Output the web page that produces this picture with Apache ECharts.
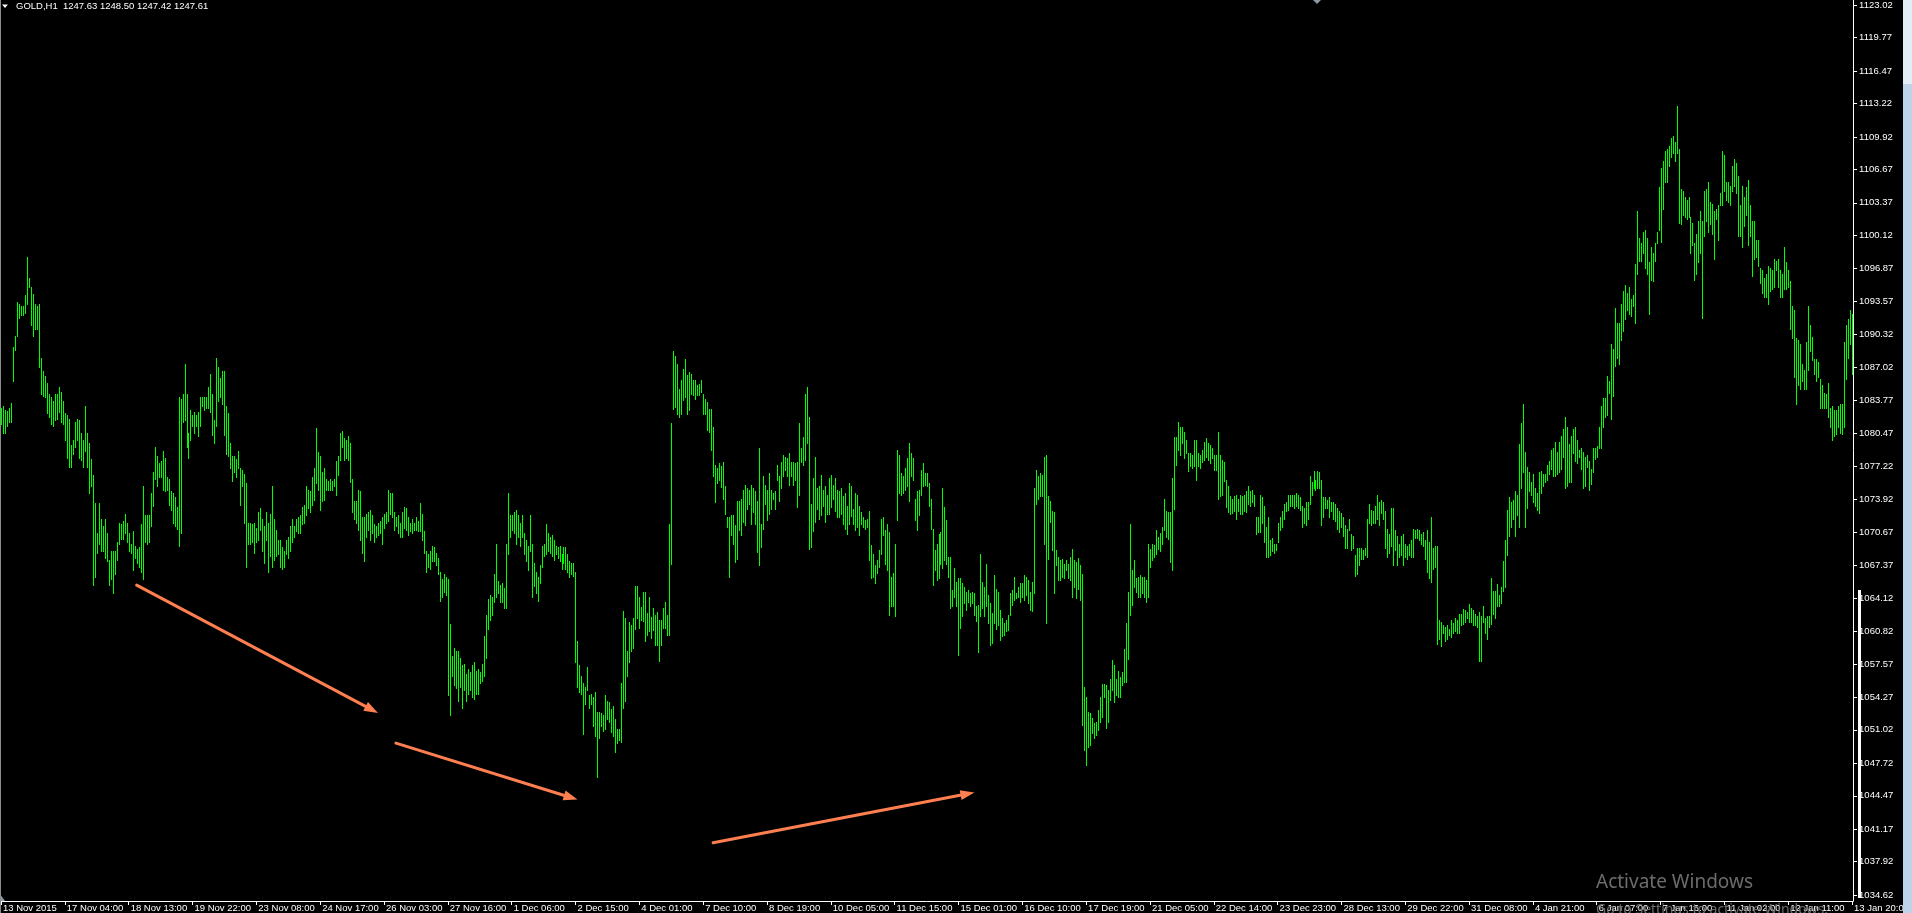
<!DOCTYPE html>
<html><head><meta charset="utf-8">
<script src="https://cdn.jsdelivr.net/npm/echarts@6/dist/echarts.min.js"></script>
<style>html,body{margin:0;padding:0;background:#000;overflow:hidden}#c{width:1912px;height:913px}</style>
</head><body><div id="c"></div><script>
const symbolName = 'GOLD,H1';
const lastOHLC = [1247.63, 1248.50, 1247.42, 1247.61];
const timeLabels = ['13 Nov 2015','17 Nov 04:00','18 Nov 13:00','19 Nov 22:00','23 Nov 08:00','24 Nov 17:00','26 Nov 03:00','27 Nov 16:00','1 Dec 06:00','2 Dec 15:00','4 Dec 01:00','7 Dec 10:00','8 Dec 19:00','10 Dec 05:00','11 Dec 15:00','15 Dec 01:00','16 Dec 10:00','17 Dec 19:00','21 Dec 05:00','22 Dec 14:00','23 Dec 23:00','28 Dec 13:00','29 Dec 22:00','31 Dec 08:00','4 Jan 21:00','6 Jan 07:00','7 Jan 16:00','11 Jan 02:00','12 Jan 11:00','13 Jan 20:00'];
const priceTicks = [1034.62,1037.92,1041.17,1044.47,1047.72,1051.02,1054.27,1057.57,1060.82,1064.12,1067.37,1070.67,1073.92,1077.22,1080.47,1083.77,1087.02,1090.32,1093.57,1096.87,1100.12,1103.37,1106.67,1109.92,1113.22,1116.47,1119.77,1123.02];
// hourly bars as [high, low]
const barsNov = [[1083.0,1081.4],[1083.2,1080.5],[1082.8,1080.5],[1082.7,1081.2],[1083.0,1081.6],[1083.5,1081.6],[1089.0,1085.7],[1090.1,1088.8],[1093.5,1090.1],[1093.3,1091.9],
[1093.1,1092.2],[1093.1,1092.2],[1094.2,1092.4],[1098.0,1093.3],[1095.9,1095.0],[1095.0,1091.2],[1094.3,1090.1],[1093.3,1090.8],[1093.1,1090.8],[1093.3,1087.1],
[1088.0,1084.4],[1086.7,1084.2],[1086.2,1084.1],[1085.5,1082.5],[1084.4,1082.1],[1084.1,1081.4],[1083.7,1081.2],[1084.4,1081.8],[1084.4,1081.9],[1085.1,1082.6],
[1084.6,1081.6],[1083.7,1081.4],[1082.5,1079.8],[1082.3,1078.0],[1081.9,1077.1],[1079.3,1077.1],[1079.8,1078.4],[1081.6,1079.1],[1081.9,1079.8],[1081.8,1078.0],
[1080.5,1077.8],[1079.8,1077.1],[1083.2,1078.7],[1080.5,1077.1],[1079.5,1074.5],[1077.9,1075.2],
[1076.3,1065.4],[1073.6,1066.2],[1070.6,1068.6],[1073.6,1069.5],[1072.0,1068.8],[1071.3,1068.8],[1072.0,1068.1],[1070.6,1067.8],[1067.9,1065.4],[1068.8,1066.0],
[1068.8,1064.6],[1068.8,1066.5],[1069.7,1067.9],[1071.6,1069.5],[1071.5,1070.0],[1071.8,1070.0],[1072.5,1070.6],[1071.6,1069.7],[1070.6,1068.8],[1069.5,1068.6],
[1070.8,1066.9],[1069.3,1068.1],[1069.0,1067.6],[1069.2,1067.2],[1071.5,1066.7],[1075.2,1066.0],[1072.4,1069.7],[1072.4,1069.5],[1072.4,1069.7],[1074.5,1071.3],
[1076.6,1073.3],[1079.1,1075.9],[1078.2,1075.2],[1077.5,1076.1],[1077.7,1076.1],[1078.7,1074.8],[1078.0,1074.7],[1076.1,1074.8],[1075.9,1073.4],[1074.7,1072.9],
[1074.5,1071.6],[1074.1,1071.3],[1073.2,1071.0],
[1084.1,1069.3],[1083.9,1070.6],[1084.4,1081.6],[1087.4,1081.8],[1084.4,1079.1],[1080.5,1078.0],[1082.8,1079.8],[1082.3,1081.2],[1082.6,1080.5],[1082.3,1081.2],
[1082.6,1080.2],[1084.1,1081.2],[1084.1,1083.2],[1084.1,1082.8],[1084.1,1083.0],[1085.1,1083.0],[1086.4,1082.6],[1084.4,1080.3],[1081.8,1079.5],[1088.0,1081.2],
[1087.1,1083.7],[1086.0,1084.1],[1086.7,1083.4],[1086.7,1080.3],[1083.2,1078.4],[1082.5,1078.2],[1079.5,1077.0],[1078.2,1075.7],[1078.2,1076.6],[1077.9,1076.1],
[1078.7,1077.0],[1077.0,1073.4],[1076.8,1075.2],[1076.4,1071.6],[1075.5,1067.2],[1071.6,1069.5],[1071.6,1069.5],[1071.5,1069.7],[1071.6,1068.6],[1071.1,1069.7],
[1072.7,1069.9],[1073.1,1070.9],[1072.0,1068.8],[1071.3,1067.6],[1072.7,1069.9],[1071.6,1066.7],[1072.5,1068.3],[1075.2,1067.2],[1072.0,1067.9],[1070.9,1068.3],
[1069.9,1068.5],[1069.9,1067.2],[1069.2,1067.0],[1068.8,1067.2],[1069.9,1068.5],[1070.2,1068.1],[1071.3,1068.8],[1072.0,1069.7],[1071.3,1070.2],[1072.0,1070.8],
[1072.2,1070.6],[1072.4,1070.6],[1073.2,1071.5],[1073.4,1071.6],[1075.2,1072.4],[1074.8,1073.1],[1074.7,1072.7],[1076.1,1073.4],[1077.0,1073.9],[1081.0,1075.5],
[1078.6,1074.8],[1078.2,1072.9],[1076.6,1073.8],[1077.0,1073.9],[1075.9,1074.8],[1075.7,1074.8],[1075.9,1074.8],[1075.7,1074.8],[1075.9,1075.2],[1077.7,1074.3],
[1078.2,1076.3],[1080.5,1077.8],[1080.7,1079.1],[1080.0,1077.8],[1079.8,1078.0],[1080.2,1077.8],[1079.5,1075.6],[1075.9,1072.7],[1073.8,1072.0],[1073.8,1071.6],
[1074.8,1070.9],[1074.7,1069.9],[1072.2,1068.6],[1072.2,1067.8],[1072.5,1070.2],
[1072.7,1070.9],[1072.9,1069.9],[1072.4,1070.6],[1071.5,1069.7],[1071.3,1070.2],[1071.6,1070.4],[1071.8,1070.6],[1072.2,1069.5],[1072.5,1071.1],[1072.7,1071.6],
[1074.8,1071.8],[1074.5,1072.5],[1074.5,1072.2],[1072.7,1070.9],[1072.2,1071.3],[1072.4,1070.6],[1071.6,1070.2],[1072.7,1070.2],[1073.2,1071.1],[1073.1,1070.9],
[1072.2,1070.4],[1071.6,1070.8],[1072.0,1070.6],[1071.6,1070.9],[1072.2,1070.9],[1071.8,1070.8],[1073.6,1070.8],[1072.5,1069.9],[1070.8,1068.6],[1068.8,1066.7],
[1068.5,1067.2],[1068.8,1067.0],[1069.3,1067.8],[1069.2,1067.8],[1068.6,1067.4],[1068.1,1066.5],[1066.7,1063.8],[1066.0,1064.2],[1066.5,1064.7],[1066.2,1064.4],
[1066.0,1054.5],[1061.5,1052.5],[1058.4,1056.4],[1059.2,1055.5],[1058.9,1055.2],[1058.9,1053.9],[1058.2,1055.3],[1057.5,1053.2],[1057.6,1055.0],[1056.6,1053.9],
[1057.1,1054.6],[1056.8,1055.0],[1057.5,1054.3],[1057.8,1054.1],[1056.9,1054.6],[1057.1,1054.6],[1056.8,1055.7],[1057.6,1055.9],[1060.3,1056.4],[1062.4,1058.2],
[1064.0,1061.0],[1064.4,1061.9],[1064.2,1062.4],[1066.5,1063.7],[1069.5,1064.2],[1065.8,1064.6],[1065.4,1063.7],[1065.6,1063.7],[1065.1,1063.1],[1069.5,1063.1],
[1074.5,1068.5],[1072.4,1070.2],[1072.4,1070.9],[1072.7,1070.6],[1072.9,1069.5],[1072.4,1070.2],[1071.6,1069.3],[1072.4,1070.2],[1070.6,1068.5],[1069.9,1067.8],
[1069.3,1066.9],[1072.4,1068.8],[1069.5,1064.2],[1067.6,1065.3],[1066.7,1064.6],[1066.2,1063.8],[1067.4,1065.6],[1069.3,1067.2],[1069.5,1068.3],[1071.5,1068.5],
[1070.6,1068.8],[1070.2,1068.6],
[1070.4,1068.3],[1069.9,1067.9],[1069.3,1068.5],[1069.2,1068.1],[1069.3,1067.8],[1068.5,1067.0],[1069.2,1067.6],[1069.2,1067.0],[1068.5,1066.7],[1067.8,1066.2],
[1067.6,1066.5],[1067.6,1066.3],
[1066.7,1057.8],[1059.8,1055.3],[1057.5,1054.8],[1056.4,1054.6],[1055.7,1050.6],[1055.3,1053.6],[1057.3,1055.0],[1054.5,1053.2],
[1054.6,1053.6],[1054.3,1051.4],[1054.8,1050.4],[1052.8,1046.3],
[1052.8,1050.2],[1052.7,1051.4],[1052.5,1050.9],[1054.5,1051.1],[1053.9,1052.1],[1053.8,1051.8],[1053.1,1050.8],
[1053.4,1050.4],[1052.1,1048.8],[1051.1,1049.7],[1051.1,1050.0],[1055.7,1049.8],[1062.8,1053.2],[1062.1,1053.9],[1058.9,1056.4],[1061.7,1057.8],[1061.4,1058.9],
[1062.1,1059.2],[1065.3,1061.0],[1065.3,1062.1]];
const barsDec = [[1064.2,1061.1],[1063.2,1061.9],[1064.7,1061.8],[1064.7,1059.8],[1062.6,1060.4],[1064.2,1060.8],[1062.2,1060.1],[1063.1,1060.9],[1062.4,1059.4],[1062.7,1059.4],
[1061.9,1057.9],[1061.9,1059.4],[1063.1,1061.1],[1063.7,1061.1],[1062.4,1060.4],[1071.5,1060.4],[1081.5,1067.5],[1088.7,1082.9],[1088.2,1083.1],[1087.4,1082.4],
[1084.9,1082.1],[1085.8,1082.4],[1086.9,1083.8],[1087.9,1084.1],[1086.3,1082.4],[1086.6,1082.8],[1086.4,1084.4],[1085.8,1084.3],[1085.8,1083.9],[1085.3,1084.3],
[1085.4,1084.3],[1085.8,1084.6],[1084.4,1082.4],[1083.9,1082.4],[1083.6,1080.8],[1082.9,1080.6],[1082.9,1078.8],[1081.1,1076.2],[1077.3,1073.7],[1077.0,1075.5],
[1077.5,1075.8],[1077.2,1075.1],
[1077.6,1074.0],[1075.2,1072.5],[1072.2,1071.2],[1072.2,1066.2],[1072.4,1070.4],[1072.4,1069.5],[1071.4,1067.7],[1073.8,1068.0],[1073.8,1070.9],
[1074.0,1070.4],[1074.8,1071.7],[1075.3,1071.4],[1075.0,1073.0],[1074.8,1073.5],[1075.3,1071.5],[1075.0,1072.7],[1074.7,1071.5],[1073.8,1068.7],[1079.0,1067.4],
[1071.5,1069.2],[1076.2,1071.0],[1075.3,1073.5],[1074.8,1071.9],[1076.5,1072.5],[1074.8,1073.0],[1074.5,1074.0],[1074.7,1073.0],[1077.3,1075.8],[1076.2,1073.8],
[1077.6,1075.0],[1078.3,1076.2],[1078.1,1076.8],[1078.0,1076.2],[1078.5,1075.3],[1077.6,1076.2],[1077.6,1075.3],[1077.5,1075.8],[1077.6,1073.2],[1081.5,1074.3],
[1079.0,1077.6],[1080.1,1077.3],[1084.4,1077.8],[1085.1,1079.5],[1082.1,1069.0],[1073.5,1069.2],[1076.0,1070.8],
[1078.1,1071.7],[1075.0,1073.0],[1075.2,1072.0],[1076.3,1072.4],[1074.8,1073.3],[1075.2,1071.7],[1074.3,1072.5],[1076.0,1072.5],[1076.3,1073.2],[1075.3,1074.0],
[1076.0,1072.8],[1074.8,1072.2],[1074.7,1072.2],[1075.0,1072.5],[1074.2,1071.5],[1074.5,1071.0],[1073.3,1070.5],[1075.5,1071.5],[1075.2,1072.3],[1073.0,1071.5],
[1074.5,1070.9],[1074.3,1071.2],[1073.3,1070.4],[1072.7,1071.5],[1072.2,1071.2],[1071.9,1071.0],[1072.0,1071.2],[1072.8,1067.9],[1069.4,1066.1],[1068.5,1066.2],
[1067.4,1065.6],[1067.9,1066.6],[1068.9,1067.2],[1072.0,1068.5],[1072.2,1070.4],[1070.9,1067.5],[1071.5,1066.9],[1070.7,1062.4],[1066.2,1063.3],[1066.6,1063.3],
[1069.5,1062.3],[1078.8,1071.9],[1078.3,1074.5],[1076.5,1074.3],[1076.2,1074.5],[1077.0,1074.8],
[1078.0,1075.2],[1079.5,1073.8],[1078.5,1076.2],[1078.0,1075.8],[1074.0,1071.9],[1074.7,1070.9],[1074.8,1072.4],[1076.8,1074.3],[1077.5,1075.2],[1076.5,1075.3],
[1076.5,1075.2],[1075.5,1073.3],[1074.0,1071.0],[1071.0,1065.4],[1068.9,1066.9],[1069.5,1065.9],[1070.5,1066.1],[1070.7,1067.5],[1075.0,1067.1],[1073.2,1067.9],
[1071.9,1067.5],[1068.2,1066.2],[1068.2,1063.1],[1064.9,1063.3],[1067.1,1064.2],[1065.7,1063.3],[1066.1,1058.5],[1066.1,1061.1],[1065.6,1062.3],[1065.2,1063.6],
[1064.7,1062.9],[1064.9,1063.7],[1064.6,1063.3],[1064.7,1063.6],[1064.6,1062.4],[1063.3,1061.8],[1063.4,1058.8],[1068.5,1062.3],[1065.7,1063.1],[1065.2,1062.3],
[1067.5,1063.3],[1064.4,1061.6],[1063.6,1059.4],[1062.6,1059.6],[1066.4,1061.6],[1065.0,1061.0],
[1064.7,1061.4],[1062.9,1059.9],[1062.1,1060.3],[1061.6,1060.4],[1061.9,1060.8],[1062.4,1060.9],[1064.6,1062.4],[1064.9,1063.4],[1066.2,1063.9],[1064.6,1064.1],
[1065.2,1064.2],[1065.6,1063.7],[1065.6,1064.2],[1066.4,1063.9],[1066.2,1064.4],[1065.9,1063.6],[1064.7,1062.9],[1065.7,1062.8],[1075.0,1064.6],[1076.8,1073.5],
[1076.2,1074.0],[1076.5,1074.2],[1076.3,1074.2],[1078.1,1069.5],[1078.3,1061.6],[1074.2,1068.0],[1073.8,1071.7],[1072.8,1068.9],[1072.7,1064.6],[1068.9,1067.4],
[1068.2,1065.9],[1067.9,1065.9],[1068.0,1066.2],[1067.5,1066.1],[1067.9,1066.9],[1067.5,1066.1],[1068.2,1065.9],[1069.0,1064.2],[1067.9,1065.2],[1067.7,1064.1],
[1068.1,1065.0],
[1067.4,1063.9],[1066.5,1051.5],[1055.3,1049.0],[1054.3,1047.5],[1052.8,1049.3],[1052.7,1049.5],[1052.2,1050.7],[1051.7,1050.2],[1051.8,1050.5],[1053.0,1051.0],
[1054.3,1051.8],[1055.6,1052.3],[1055.6,1054.3],[1055.5,1051.2],[1055.0,1051.8],[1056.1,1054.0],[1058.0,1055.0],[1057.5,1053.8],[1056.1,1054.5],[1056.9,1054.3],
[1056.3,1054.3],[1056.8,1055.5],[1059.1,1055.8],[1061.6,1055.8],[1064.7,1058.1],[1071.5,1062.4],[1066.9,1063.4],[1067.9,1065.2],[1066.1,1064.7],[1066.2,1064.2],
[1066.4,1064.2],[1066.2,1064.6],[1066.2,1064.2],[1065.9,1063.7],[1069.5,1064.2],[1069.0,1067.2],[1069.5,1067.9],[1069.4,1068.2],[1070.9,1068.5],[1070.2,1069.0],
[1070.6,1068.8],
[1071.2,1069.5],[1074.0,1070.9],[1072.8,1070.2],[1072.7,1070.0],[1072.7,1067.7],[1076.0,1066.9],[1080.1,1073.0],[1080.1,1077.3],[1081.6,1078.8],[1081.1,1078.3],
[1081.1,1079.5],[1080.6,1078.0],[1079.8,1078.5],[1078.5,1076.7],[1078.5,1077.2],[1078.3,1077.0],[1079.8,1077.2],[1079.8,1075.8],[1078.5,1077.2],[1078.3,1077.0],
[1078.8,1077.6],[1079.6,1077.8],[1080.0,1078.1],[1079.5,1077.8],[1079.3,1077.5],[1079.0,1078.0],[1078.3,1076.8],[1078.3,1076.8],[1080.6,1074.0],[1078.3,1074.2],
[1077.8,1074.3],[1077.6,1075.7],[1075.8,1073.2],[1075.2,1072.7],[1074.2,1072.5],[1074.0,1072.6],
[1074.2,1072.8],[1074.3,1072.0],[1074.0,1072.8],[1074.3,1072.5],[1074.2,1072.5],[1074.3,1072.8],[1074.7,1072.7],[1075.2,1073.5],[1074.7,1073.3],[1074.8,1073.7],
[1074.3,1073.3],[1072.2,1070.5]];
const barsJan = [[1072.2,1070.7],[1074.3,1070.7],[1074.1,1071.6],[1073.3,1069.7],[1071.2,1068.2],[1072.2,1068.2],[1069.9,1068.4],[1070.1,1068.8],[1069.5,1068.6],[1069.5,1068.9],
[1071.6,1069.7],[1072.2,1070.9],[1072.8,1071.2],[1073.5,1072.0],[1073.7,1072.8],[1074.3,1072.9],[1074.3,1073.3],[1074.3,1073.3],[1074.3,1073.1],[1074.5,1073.3],
[1074.3,1073.1],[1074.1,1072.9],[1073.3,1071.2],[1073.1,1071.6],[1073.7,1071.4],[1073.7,1072.0],[1076.2,1073.5],[1075.6,1074.3],[1076.7,1075.0],[1075.8,1074.8],
[1076.7,1075.0],[1076.6,1075.0],[1075.8,1071.4],[1074.1,1072.2],[1074.1,1073.1],[1073.9,1073.1],[1074.1,1072.2],[1073.7,1072.8],[1073.7,1072.0],[1073.5,1071.8],
[1073.1,1071.0],[1072.8,1070.7],[1072.6,1071.2],[1072.2,1070.3],[1071.4,1069.1],[1071.0,1069.1],[1072.0,1070.9],[1070.5,1068.9],[1070.3,1069.1],[1068.4,1066.3],
[1069.1,1066.5],[1069.1,1067.4],[1069.1,1068.0],[1068.9,1068.0],[1069.1,1068.4],[1072.0,1068.2],[1073.5,1071.6],[1072.9,1071.4],[1072.8,1071.6],[1073.3,1071.6],
[1074.3,1072.0],[1073.7,1071.4],[1073.9,1072.6],[1073.7,1072.0],[1072.8,1069.1],[1071.0,1068.2],[1070.5,1068.6],[1073.1,1069.3],[1073.1,1067.4],[1070.9,1068.9],
[1070.3,1067.4],[1069.5,1068.2],[1070.3,1068.4],[1070.5,1067.4],[1069.5,1068.2],[1069.3,1068.0],[1069.5,1068.4],[1069.9,1068.2],[1071.0,1068.2],
[1070.9,1070.1],[1071.0,1070.1],[1070.9,1069.9],[1070.5,1069.5],[1070.7,1069.3],[1069.9,1068.0],[1070.9,1066.7],[1069.7,1066.1],[1072.2,1065.7],[1069.1,1067.0],
[1069.3,1067.2],[1069.3,1059.5],[1061.9,1060.0],[1061.7,1059.3],[1061.4,1060.6],[1061.2,1059.8],[1061.4,1060.0],[1061.0,1060.4],[1061.9,1060.2],[1061.6,1060.6],
[1062.1,1060.8],[1061.9,1060.6],[1062.5,1060.6],[1062.5,1061.4],[1063.0,1061.5],[1062.9,1061.7],[1062.7,1062.1],[1063.5,1061.7],[1063.1,1061.7],
[1062.9,1061.4],[1062.5,1061.4],[1062.3,1061.2],[1062.7,1057.9],[1062.3,1057.9],[1063.3,1061.7],[1062.1,1060.6],[1062.3,1060.0],[1062.3,1061.2],[1066.1,1061.5],
[1064.8,1062.5],[1064.8,1062.1],[1065.5,1063.3],[1064.4,1063.3],[1065.2,1063.6],[1067.8,1064.8],[1069.9,1065.2],[1072.9,1068.4],[1074.1,1070.3],[1073.7,1071.2],
[1073.9,1072.0],[1074.7,1070.3],[1074.3,1072.4],[1079.4,1071.2],[1081.5,1075.0],[1083.4,1076.6],[1078.6,1071.2],[1077.1,1073.1],[1076.6,1074.7],[1075.6,1074.3],
[1076.4,1073.7],[1075.0,1073.3],[1074.5,1072.9],[1076.6,1072.6],[1076.7,1074.5],[1076.4,1075.2],[1076.4,1075.6],[1077.3,1075.8],[1077.7,1076.4],[1078.8,1076.9],
[1079.0,1076.2],[1079.6,1076.2],[1078.6,1076.4],[1079.6,1076.6],[1080.2,1076.9],[1080.9,1078.1],[1082.1,1075.0],[1081.1,1075.2],[1079.4,1075.6],[1080.2,1075.6],
[1080.9,1078.5],[1081.1,1077.7],[1079.8,1077.5],[1078.8,1078.1],[1079.0,1076.9],[1078.6,1075.0],[1078.1,1075.2],[1078.3,1077.1],[1077.7,1074.8],[1076.9,1075.4],
[1079.0,1076.6],[1079.0,1077.9],[1079.2,1078.1],[1081.1,1079.0],[1083.2,1079.0],[1084.0,1081.1],[1084.0,1082.1],[1086.2,1082.3],[1085.7,1084.5],[1089.3,1081.9],
[1088.9,1084.2],[1092.9,1087.2],[1091.4,1088.0],[1091.4,1087.4],[1093.3,1089.7],[1094.6,1090.6],[1095.2,1091.8],[1094.4,1092.7],[1095.0,1092.3],[1093.8,1092.1],
[1094.2,1093.1],[1097.3,1091.4],[1102.6,1096.3],[1099.9,1097.6],[1099.4,1097.6],[1100.5,1098.4],[1100.7,1096.9],[1099.9,1096.3],[1097.5,1092.3],[1099.0,1095.7],
[1098.4,1095.6],[1099.4,1097.6],[1100.5,1099.4],[1104.9,1100.7],[1106.8,1099.5],[1107.5,1102.8],[1108.5,1105.4],[1108.7,1105.4],[1109.0,1107.0],[1109.8,1107.9],
[1110.0,1108.3],[1109.4,1107.5],[1113.0,1108.3],[1108.7,1101.4],[1104.7,1101.3],[1104.5,1102.2],[1103.9,1102.0],[1103.7,1101.8],[1103.9,1102.0],
[1102.0,1098.4],[1101.4,1099.2],[1099.4,1095.7],[1100.3,1096.3],[1101.6,1097.5],[1102.6,1098.4],[1101.6,1091.9],[1104.5,1100.1],[1104.7,1101.6],[1105.4,1100.5],
[1103.5,1101.3],[1103.3,1100.3],[1102.6,1097.8],[1102.8,1101.8],[1103.2,1099.7],[1104.3,1103.2],[1108.5,1103.2],[1108.1,1104.5],[1105.4,1103.7],[1105.4,1103.5],
[1105.0,1103.2],[1107.0,1104.5],[1107.7,1105.0],[1107.3,1104.3],[1106.0,1100.1],[1103.2,1100.1],[1105.0,1099.0],[1103.9,1101.1],[1104.9,1102.2],[1105.6,1099.2],
[1103.2,1100.1],[1101.6,1096.1],[1101.6,1097.8],[1099.7,1098.0],[1099.7,1097.1],[1096.9,1095.4],[1096.7,1094.4],[1095.9,1094.0],[1096.3,1094.0],[1097.1,1093.3],
[1096.9,1094.6],[1096.7,1094.8],[1097.8,1095.0],[1097.6,1096.7],[1097.8,1095.0],[1096.7,1094.0],[1096.3,1094.0],[1099.0,1094.8],[1097.5,1094.8],[1096.7,1095.0],
[1095.6,1090.8],[1093.1,1089.9],[1092.7,1086.1],[1089.9,1083.4],[1089.7,1085.3],[1089.3,1084.9],[1087.4,1085.7],[1086.8,1084.9],[1089.5,1084.9],[1093.1,1086.8],
[1091.2,1088.7],[1090.0,1087.8],[1087.9,1086.4],[1087.9,1085.7],[1087.6,1086.1],[1085.9,1083.0],[1085.3,1083.0],[1084.5,1083.0],[1084.4,1083.0],[1085.5,1082.1],
[1083.0,1081.1],[1083.2,1079.8],[1082.8,1080.2],[1082.8,1080.4],[1083.2,1081.1],[1083.4,1080.5],[1083.4,1080.4],[1089.5,1081.1],[1091.2,1085.9],[1091.8,1088.0],
[1092.7,1089.3],[1092.3,1086.4]];
// orange arrows: [barFrom, priceFrom, barTo, priceTo]
const arrowLines = [[67.5,1065.4,188.9,1052.7],[197.5,1049.7,288.9,1044.1],[356.8,1039.8,487.9,1044.8]];

const bars = barsNov.concat(barsDec, barsJan);
const LABEL_STEP = 32;
const categories = bars.map((b, i) => (i % LABEL_STEP === 0 && timeLabels[i / LABEL_STEP]) ? timeLabels[i / LABEL_STEP] : '');
const seriesData = bars.map((b, i) => [i, b[0], b[1]]);
const FONT = 'Liberation Sans';

const chart = echarts.init(document.getElementById('c'), null, {renderer: 'canvas'});
const showLabel = (i, v) => v !== '';
chart.setOption({
  backgroundColor: '#000',
  animation: false,
  title: {
    text: symbolName + '  ' + lastOHLC.map(v => v.toFixed(2)).join(' '),
    left: 16, top: 1.5, padding: 0,
    textStyle: {color: '#fff', fontSize: 9.5, fontWeight: 'normal', fontFamily: FONT}
  },
  grid: {left: 0, top: 0, right: 53, bottom: 12, containLabel: false},
  xAxis: {
    type: 'category', data: categories, boundaryGap: true,
    axisLine: {show: true, lineStyle: {color: '#fff', width: 1}},
    axisTick: {show: true, alignWithLabel: true, interval: showLabel, length: 4, lineStyle: {color: '#fff'}},
    axisLabel: {interval: showLabel, align: 'left', color: '#fff', fontSize: 9.5, fontFamily: FONT, margin: 2, padding: [0, 0, 0, 2]},
    splitLine: {show: false}
  },
  yAxis: {
    type: 'value', position: 'right', min: 1034.02, max: 1123.48,
    axisLine: {show: true, lineStyle: {color: '#fff', width: 1}},
    axisTick: {show: true, length: 4, lineStyle: {color: '#fff'}, customValues: priceTicks},
    axisLabel: {color: '#fff', fontSize: 9.5, fontFamily: FONT, margin: 6, customValues: priceTicks, formatter: v => v.toFixed(2)},
    splitLine: {show: false}
  },
  series: [{
    type: 'custom', clip: true,
    data: seriesData,
    encode: {x: 0, y: [1, 2]},
    renderItem: function (params, api) {
      const i = api.value(0);
      const top = api.coord([i, api.value(1)]);
      const bot = api.coord([i, api.value(2)]);
      const x = Math.round(top[0]) + 0.5;
      return {type: 'line', shape: {x1: x, y1: Math.round(top[1]), x2: x, y2: Math.round(bot[1]) + 1},
        style: {stroke: '#00ff00', lineWidth: 1}};
    }
  }]
});

// decorations and arrows placed through the chart's own scales
const els = [];
arrowLines.forEach(a => {
  const p1 = chart.convertToPixel({gridIndex: 0}, [a[0], a[1]]);
  const p2 = chart.convertToPixel({gridIndex: 0}, [a[2], a[3]]);
  const dx = p2[0] - p1[0], dy = p2[1] - p1[1];
  const len = Math.sqrt(dx * dx + dy * dy);
  const ux = dx / len, uy = dy / len;
  const headLen = 14, headHalf = 5;
  const bx = p2[0] - ux * headLen, by = p2[1] - uy * headLen;
  els.push({type: 'line', z: 10, shape: {x1: p1[0], y1: p1[1], x2: bx + ux * 2, y2: by + uy * 2},
    style: {stroke: '#ff7f50', lineWidth: 3, lineCap: 'round'}});
  els.push({type: 'polygon', z: 10, shape: {points: [[p2[0], p2[1]], [bx - uy * headHalf, by + ux * headHalf], [bx + uy * headHalf, by - ux * headHalf]]},
    style: {fill: '#ff7f50'}});
});
els.push({type: 'polygon', z: 10, shape: {points: [[2, 4.5], [8, 4.5], [5, 8]]}, style: {fill: '#fff'}});
els.push({type: 'polygon', z: 10, shape: {points: [[1313, 0], [1321, 0], [1317, 4]]}, style: {fill: '#8a98a8'}});
els.push({type: 'polygon', z: 10, shape: {points: [[0, 894], [0, 901], [5, 901]]}, style: {fill: '#8a98a8'}});
els.push({type: 'rect', z: 10, shape: {x: 0, y: 0, width: 1, height: 913}, style: {fill: '#8c8c8c'}});
els.push({type: 'rect', z: 10, shape: {x: 1858, y: 590, width: 3, height: 308}, style: {fill: '#fff'}});
els.push({type: 'rect', z: 12, shape: {x: 1903, y: 0, width: 9, height: 913}, style: {fill: '#bcd3ea'}});
els.push({type: 'rect', z: 12, shape: {x: 1903, y: 0, width: 9, height: 84}, style: {fill: '#e2edf8'}});
els.push({type: 'text', z: 11, style: {x: 1596, y: 882.5, text: 'Activate Windows', fill: '#6c6c6c', fontSize: 19, fontFamily: 'Noto Sans', verticalAlign: 'middle', align: 'left'}});
els.push({type: 'text', z: 11, style: {x: 1596, y: 910, text: 'Go to Settings to activate Windows.', fill: '#6c6c6c', fontSize: 14, fontFamily: 'Noto Sans', verticalAlign: 'middle', align: 'left'}});
chart.setOption({graphic: {elements: els}});
</script></body></html>
